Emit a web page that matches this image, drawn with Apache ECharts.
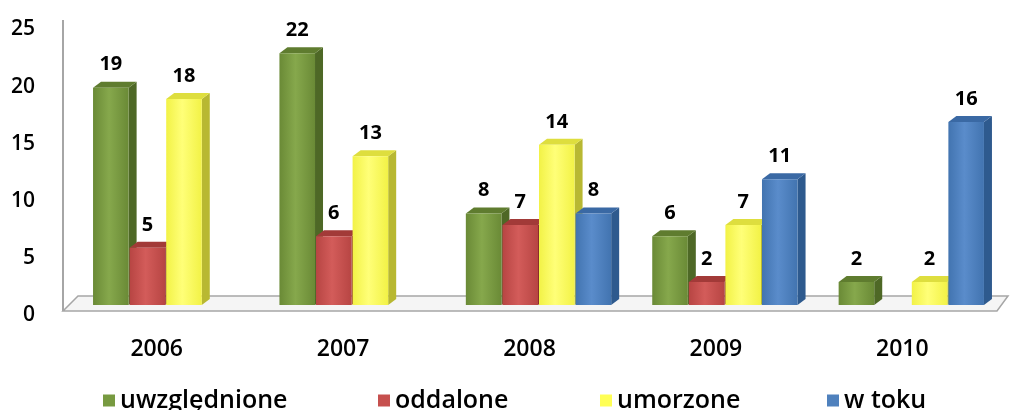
<!DOCTYPE html>
<html>
<head>
<meta charset="utf-8">
<script src="https://cdn.jsdelivr.net/npm/echarts@6/dist/echarts.min.js"></script>
</head>
<body style="margin:0;background:#fff">
<div id="main" style="width:1010px;height:410px;"></div>
<script type="text/javascript">
// dane
var years = ['2006', '2007', '2008', '2009', '2010'];
var uwzglednione = [19, 22, 8, 6, 2];
var oddalone = [5, 6, 7, 2, null];
var umorzone = [18, 13, 14, 7, 2];
var wToku = [null, null, 8, 11, 16];
var seriesNames = ['uwzględnione', 'oddalone', 'umorzone', 'w toku'];

var seriesData = [uwzglednione, oddalone, umorzone, wToku];
var colors = ['#779a40', '#c6504e', '#ffff55', '#4f81bd'];
// kolory scian "3D"
var faces = [
    { dark: '#6a8a36', light: '#86a84c', side: '#4e6826', top: '#5f7c2f' },
    { dark: '#b74543', light: '#d35c5a', side: '#8c2d2b', top: '#a23a38' },
    { dark: '#f2f246', light: '#ffff78', side: '#b8b832', top: '#dede3e' },
    { dark: '#4274b0', light: '#5a8ccb', side: '#2e5a8e', top: '#3a69a4' }
];
var font = '"Open Sans", "DejaVu Sans", sans-serif';

function makeRender(i) {
    return function (params, api) {
        var v = api.value(1);
        if (v == null || isNaN(v)) return null;
        var cat = api.value(0);
        var base = api.coord([cat, 0]);
        var top = api.coord([cat, v]);
        var band = api.size([1, 0])[0];
        var slot = band * 0.785 / 4;
        var x0 = base[0] - slot * 2 + slot * i;
        var w = slot - 1;
        var dx = 8, dy = 6;
        var y0 = base[1], y1 = top[1];
        var f = faces[i];
        return {
            type: 'group',
            children: [
                { type: 'polygon', shape: { points: [[x0 + w, y1], [x0 + w + dx, y1 - dy], [x0 + w + dx, y0 - dy], [x0 + w, y0]] }, style: { fill: f.side } },
                { type: 'polygon', shape: { points: [[x0, y1], [x0 + dx, y1 - dy], [x0 + w + dx, y1 - dy], [x0 + w, y1]] }, style: { fill: f.top } },
                { type: 'rect', shape: { x: x0, y: y1, width: w, height: y0 - y1 },
                  style: { fill: new echarts.graphic.LinearGradient(0, 0, 1, 0, [
                      { offset: 0, color: f.dark }, { offset: 0.45, color: f.light }, { offset: 1, color: f.dark }]) } },
                { type: 'text', style: { text: String(v), x: x0 + w / 2, y: y1 - 13, align: 'center', verticalAlign: 'bottom',
                  font: '700 20px ' + font, fill: '#000' } }
            ]
        };
    };
}

var myChart = echarts.init(document.getElementById('main'));

var series = [];
for (var i = 0; i < seriesData.length; i++) {
    series.push({
        name: seriesNames[i],
        type: 'custom',
        renderItem: makeRender(i),
        itemStyle: { color: colors[i] },
        encode: { x: 0, y: 1 },
        z: 5,
        data: seriesData[i].map(function (v, j) { return [j, v]; })
    });
}

var legendLeft = [98, 373, 595, 822];
var legends = seriesNames.map(function (n, i) {
    return {
        data: [n],
        left: legendLeft[i],
        top: 383,
        icon: 'rect',
        itemWidth: 12,
        itemHeight: 12,
        itemGap: 0,
        selectedMode: false,
        textStyle: { fontSize: 25, fontWeight: 600, color: '#000', fontFamily: font }
    };
});

var option = {
    animation: false,
    grid: { left: 73, right: 5, top: 19, bottom: 105 },
    legend: legends,
    xAxis: {
        type: 'category',
        data: years,
        axisLine: { show: false },
        axisTick: { show: false },
        axisLabel: { fontSize: 23, fontWeight: 600, color: '#000', fontFamily: font, margin: 33, padding: [0, 19, 0, 0] }
    },
    yAxis: {
        type: 'value',
        min: 0,
        max: 25,
        interval: 5,
        offset: 10,
        axisLine: { show: false },
        axisTick: { show: false },
        splitLine: { show: false },
        axisLabel: { fontSize: 21, fontWeight: 600, color: '#000', fontFamily: font, margin: 28, verticalAlign: 'top' }
    },
    graphic: [
        { type: 'polygon', z: 1, shape: { points: [[63, 311], [997, 311], [1008, 296], [78, 296]] },
          style: { fill: '#f5f5f5', stroke: '#a6a6a6', lineWidth: 1.5 } },
        { type: 'polyline', z: 1, shape: { points: [[63, 20], [63, 311]] },
          style: { stroke: '#a6a6a6', lineWidth: 2 } }
    ],
    series: series
};

myChart.setOption(option);
</script>
</body>
</html>
